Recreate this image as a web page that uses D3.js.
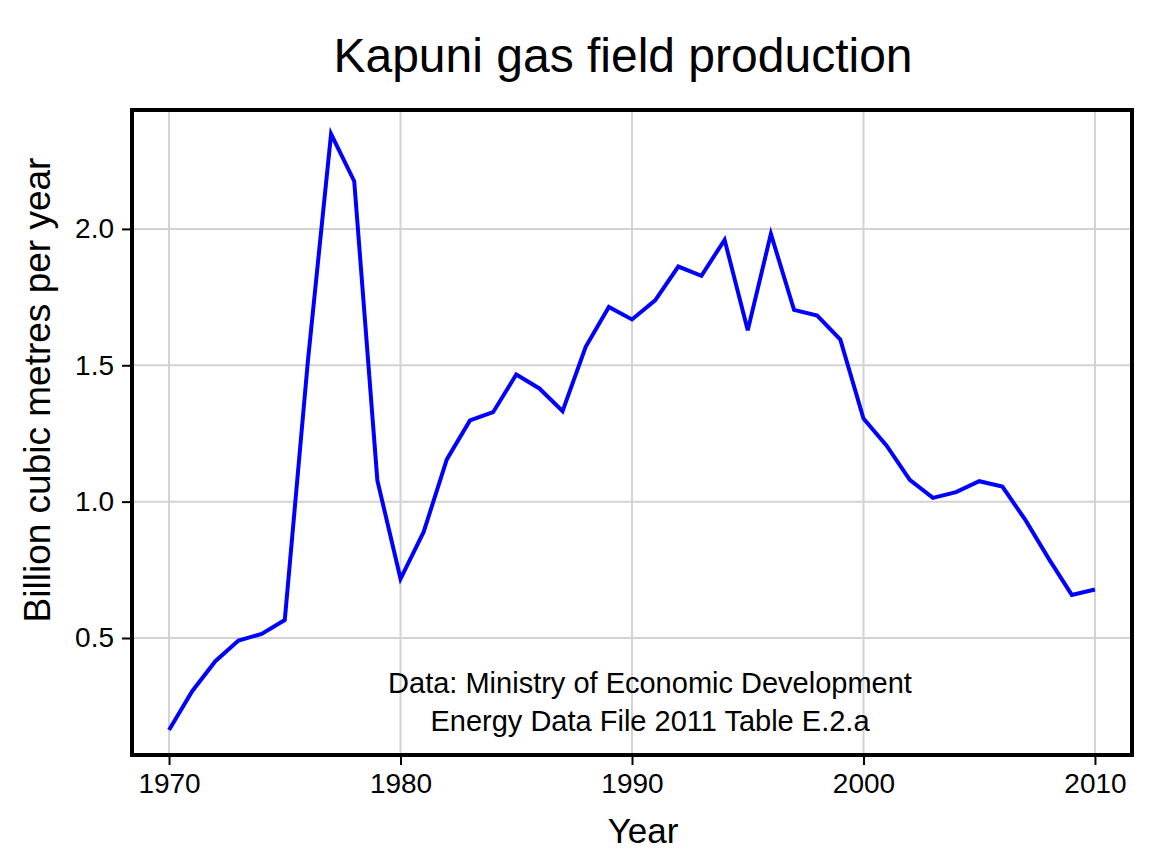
<!DOCTYPE html>
<html>
<head>
<meta charset="utf-8">
<script src="https://cdn.jsdelivr.net/npm/d3@7"></script>
<style>
  body { margin: 0; background: #fff; }
  svg { display: block; font-family: "Liberation Sans", Arial, sans-serif; }
</style>
</head>
<body>
<div id="chart"></div>
<script>
var width = 1156;
var height = 868;

// Kapuni production, billion cubic metres per year
var years = [1970, 1971, 1972, 1973, 1974, 1975, 1976, 1977, 1978, 1979,
             1980, 1981, 1982, 1983, 1984, 1985, 1986, 1987, 1988, 1989,
             1990, 1991, 1992, 1993, 1994, 1995, 1996, 1997, 1998, 1999,
             2000, 2001, 2002, 2003, 2004, 2005, 2006, 2007, 2008, 2009, 2010];
var production = [0.163, 0.305, 0.415, 0.491, 0.515, 0.566, 1.517, 2.348, 2.175, 1.078,
                  0.717, 0.889, 1.155, 1.298, 1.328, 1.466, 1.415, 1.332, 1.568, 1.714,
                  1.668, 1.738, 1.862, 1.828, 1.960, 1.628, 1.982, 1.703, 1.682, 1.594,
                  1.305, 1.205, 1.080, 1.014, 1.035, 1.075, 1.055, 0.932, 0.791, 0.658, 0.678];
var xTicks = [1970, 1980, 1990, 2000, 2010];
var yTicks = [0.5, 1.0, 1.5, 2.0];
var sourceLines = ["Data: Ministry of Economic Development",
                   "Energy Data File 2011 Table E.2.a"];

var plotLeft = 132, plotRight = 1132, plotTop = 110, plotBottom = 755;

var xScale = d3.scaleLinear().domain([1968.4, 2011.6]).range([plotLeft, plotRight]);
var yScale = d3.scaleLinear().domain([0.071, 2.436]).range([plotBottom, plotTop]);

var svg = d3.select("#chart")
    .append("svg")
    .attr("width", width)
    .attr("height", height);

// grid lines
svg.append("g")
    .selectAll("line")
    .data(xTicks)
    .enter()
    .append("line")
    .attr("x1", function(d) { return xScale(d); })
    .attr("x2", function(d) { return xScale(d); })
    .attr("y1", plotTop)
    .attr("y2", plotBottom)
    .attr("stroke", "#d3d3d3")
    .attr("stroke-width", 2);

svg.append("g")
    .selectAll("line")
    .data(yTicks)
    .enter()
    .append("line")
    .attr("x1", plotLeft)
    .attr("x2", plotRight)
    .attr("y1", function(d) { return yScale(d); })
    .attr("y2", function(d) { return yScale(d); })
    .attr("stroke", "#d3d3d3")
    .attr("stroke-width", 2);

// the series
var line = d3.line()
    .x(function(d, i) { return xScale(years[i]); })
    .y(function(d) { return yScale(d); });

svg.append("path")
    .datum(production)
    .attr("d", line)
    .attr("fill", "none")
    .attr("stroke", "#0000ff")
    .attr("stroke-width", 4)
    .attr("stroke-linejoin", "miter");

// source note
svg.append("g")
    .selectAll("text")
    .data(sourceLines)
    .enter()
    .append("text")
    .attr("x", 650)
    .attr("y", function(d, i) { return 693 + i * 38; })
    .attr("text-anchor", "middle")
    .style("font-size", "29px")
    .attr("fill", "#000")
    .text(function(d) { return d; });

// axes
var xAxis = d3.axisBottom(xScale)
    .tickValues(xTicks)
    .tickFormat(d3.format("d"))
    .tickSize(10)
    .tickPadding(8);
var yAxis = d3.axisLeft(yScale)
    .tickValues(yTicks)
    .tickFormat(d3.format(".1f"))
    .tickSize(10)
    .tickPadding(8);

var xG = svg.append("g")
    .attr("transform", "translate(0," + plotBottom + ")")
    .call(xAxis);
var yG = svg.append("g")
    .attr("transform", "translate(" + plotLeft + ",0)")
    .call(yAxis);

[xG, yG].forEach(function(g) {
    g.select(".domain").remove();
    g.selectAll(".tick line").attr("stroke", "#000").attr("stroke-width", 2);
    g.selectAll(".tick text")
        .attr("fill", "#000")
        .style("font-family", "'Liberation Sans', Arial, sans-serif")
        .style("font-size", "28px");
});

// frame
svg.append("rect")
    .attr("x", plotLeft)
    .attr("y", plotTop)
    .attr("width", plotRight - plotLeft)
    .attr("height", plotBottom - plotTop)
    .attr("fill", "none")
    .attr("stroke", "#000")
    .attr("stroke-width", 4);

// labels
svg.append("text")
    .attr("x", 623)
    .attr("y", 72)
    .attr("text-anchor", "middle")
    .style("font-size", "48px")
    .attr("fill", "#000")
    .text("Kapuni gas field production");

svg.append("text")
    .attr("x", 643)
    .attr("y", 843)
    .attr("text-anchor", "middle")
    .style("font-size", "35px")
    .attr("fill", "#000")
    .text("Year");

svg.append("text")
    .attr("transform", "translate(50,390) rotate(-90)")
    .attr("text-anchor", "middle")
    .style("font-size", "37px")
    .attr("fill", "#000")
    .text("Billion cubic metres per year");
</script>
</body>
</html>
